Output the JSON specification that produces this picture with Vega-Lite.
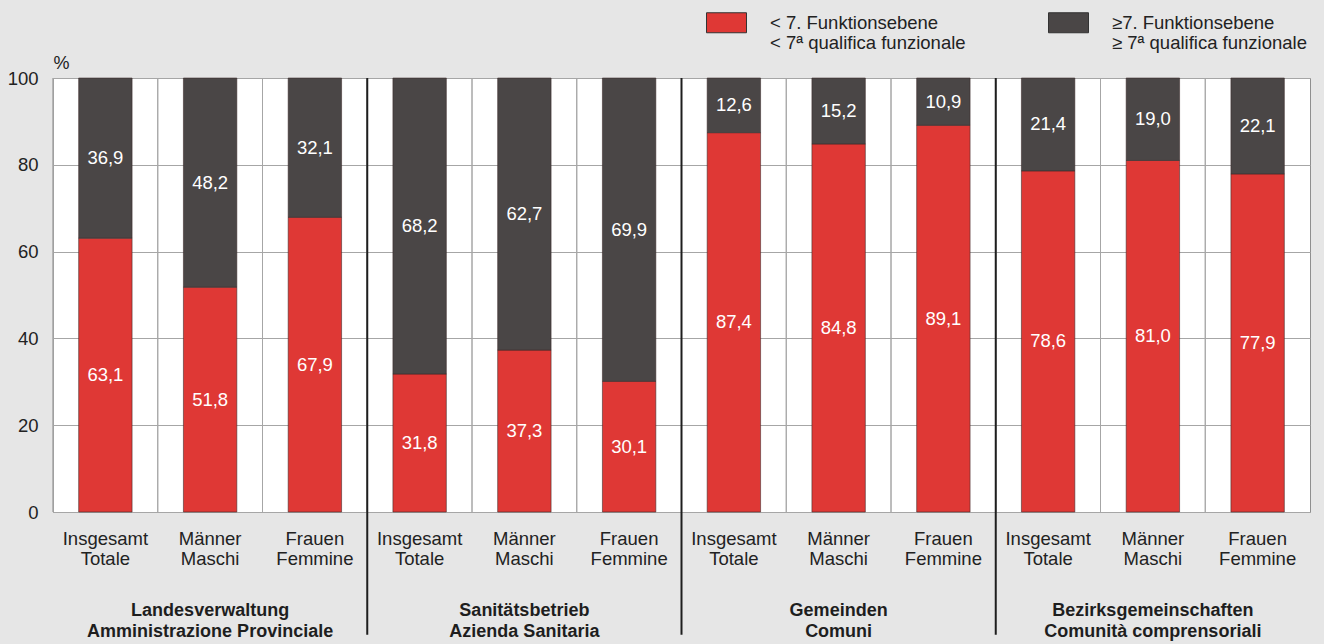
{
  "$schema": "https://vega.github.io/schema/vega-lite/v6.json",
  "width": 1257,
  "height": 434,
  "autosize": {"type": "none"},
  "padding": {"left": 53, "top": 78, "right": 14, "bottom": 132},
  "background": "#e6e6e6",
  "config": {
    "font": "Liberation Sans",
    "view": {"fill": "white", "stroke": "#8f8f8f", "strokeWidth": 1}
  },
  "datasets": {
    "main": [
      {"cat": "LV|Insgesamt|Totale", "lvl": "< 7. Funktionsebene|< 7ª qualifica funzionale", "value": 63.1},
      {"cat": "LV|Insgesamt|Totale", "lvl": "≥7. Funktionsebene|≥ 7ª qualifica funzionale", "value": 36.9},
      {"cat": "LV|Männer|Maschi", "lvl": "< 7. Funktionsebene|< 7ª qualifica funzionale", "value": 51.8},
      {"cat": "LV|Männer|Maschi", "lvl": "≥7. Funktionsebene|≥ 7ª qualifica funzionale", "value": 48.2},
      {"cat": "LV|Frauen|Femmine", "lvl": "< 7. Funktionsebene|< 7ª qualifica funzionale", "value": 67.9},
      {"cat": "LV|Frauen|Femmine", "lvl": "≥7. Funktionsebene|≥ 7ª qualifica funzionale", "value": 32.1},
      {"cat": "SB|Insgesamt|Totale", "lvl": "< 7. Funktionsebene|< 7ª qualifica funzionale", "value": 31.8},
      {"cat": "SB|Insgesamt|Totale", "lvl": "≥7. Funktionsebene|≥ 7ª qualifica funzionale", "value": 68.2},
      {"cat": "SB|Männer|Maschi", "lvl": "< 7. Funktionsebene|< 7ª qualifica funzionale", "value": 37.3},
      {"cat": "SB|Männer|Maschi", "lvl": "≥7. Funktionsebene|≥ 7ª qualifica funzionale", "value": 62.7},
      {"cat": "SB|Frauen|Femmine", "lvl": "< 7. Funktionsebene|< 7ª qualifica funzionale", "value": 30.1},
      {"cat": "SB|Frauen|Femmine", "lvl": "≥7. Funktionsebene|≥ 7ª qualifica funzionale", "value": 69.9},
      {"cat": "GE|Insgesamt|Totale", "lvl": "< 7. Funktionsebene|< 7ª qualifica funzionale", "value": 87.4},
      {"cat": "GE|Insgesamt|Totale", "lvl": "≥7. Funktionsebene|≥ 7ª qualifica funzionale", "value": 12.6},
      {"cat": "GE|Männer|Maschi", "lvl": "< 7. Funktionsebene|< 7ª qualifica funzionale", "value": 84.8},
      {"cat": "GE|Männer|Maschi", "lvl": "≥7. Funktionsebene|≥ 7ª qualifica funzionale", "value": 15.2},
      {"cat": "GE|Frauen|Femmine", "lvl": "< 7. Funktionsebene|< 7ª qualifica funzionale", "value": 89.1},
      {"cat": "GE|Frauen|Femmine", "lvl": "≥7. Funktionsebene|≥ 7ª qualifica funzionale", "value": 10.9},
      {"cat": "BG|Insgesamt|Totale", "lvl": "< 7. Funktionsebene|< 7ª qualifica funzionale", "value": 78.6},
      {"cat": "BG|Insgesamt|Totale", "lvl": "≥7. Funktionsebene|≥ 7ª qualifica funzionale", "value": 21.4},
      {"cat": "BG|Männer|Maschi", "lvl": "< 7. Funktionsebene|< 7ª qualifica funzionale", "value": 81.0},
      {"cat": "BG|Männer|Maschi", "lvl": "≥7. Funktionsebene|≥ 7ª qualifica funzionale", "value": 19.0},
      {"cat": "BG|Frauen|Femmine", "lvl": "< 7. Funktionsebene|< 7ª qualifica funzionale", "value": 77.9},
      {"cat": "BG|Frauen|Femmine", "lvl": "≥7. Funktionsebene|≥ 7ª qualifica funzionale", "value": 22.1}
    ],
    "groups": [
      {"cat": "LV|Männer|Maschi", "first": "LV|Insgesamt|Totale", "name": "Landesverwaltung|Amministrazione Provinciale"},
      {"cat": "SB|Männer|Maschi", "first": "SB|Insgesamt|Totale", "name": "Sanitätsbetrieb|Azienda Sanitaria"},
      {"cat": "GE|Männer|Maschi", "first": "GE|Insgesamt|Totale", "name": "Gemeinden|Comuni"},
      {"cat": "BG|Männer|Maschi", "first": "BG|Insgesamt|Totale", "name": "Bezirksgemeinschaften|Comunità comprensoriali"}
    ]
  },
  "layer": [
    {
      "data": {"name": "main"},
      "transform": [
        {"stack": "value", "groupby": ["cat"], "sort": [{"field": "lvl", "order": "ascending"}], "as": ["y0", "y1"]}
      ],
      "mark": {"type": "bar", "width": {"band": 0.51}, "stroke": "#3a2a2a", "strokeWidth": 0.8, "strokeOpacity": 0.7},
      "encoding": {
        "x": {"field": "cat", "type": "nominal",
              "scale": {"domain": ["LV|Insgesamt|Totale","LV|Männer|Maschi","LV|Frauen|Femmine","SB|Insgesamt|Totale","SB|Männer|Maschi","SB|Frauen|Femmine","GE|Insgesamt|Totale","GE|Männer|Maschi","GE|Frauen|Femmine","BG|Insgesamt|Totale","BG|Männer|Maschi","BG|Frauen|Femmine"], "paddingInner": 0, "paddingOuter": 0},
              "axis": {"title": null, "labelExpr": "slice(split(datum.label, '|'), 1)", "labelAngle": 0, "labelBaseline": "top", "labelPadding": 17, "labelFontSize": 18.5, "labelLineHeight": 20.5, "labelColor": "#222222", "ticks": false, "domain": false, "grid": false, "labelLimit": 200}},
        "y": {"field": "y0", "type": "quantitative",
              "scale": {"domain": [0, 100], "nice": false},
              "axis": {"values": [0, 20, 40, 60, 80, 100], "title": "%", "titleAngle": 0, "titleX": 0, "titleY": -15, "titleAlign": "left", "titleBaseline": "middle", "titleFontWeight": "normal", "titleFontSize": 18, "titleColor": "#222222", "labelFontSize": 18.5, "labelColor": "#222222", "labelPadding": 15, "ticks": false, "domain": false, "grid": true, "gridColor": "#a6a6a6", "gridWidth": 1}},
        "y2": {"field": "y1"},
        "color": {"field": "lvl", "type": "nominal",
                  "scale": {"domain": ["< 7. Funktionsebene|< 7ª qualifica funzionale", "≥7. Funktionsebene|≥ 7ª qualifica funzionale"], "range": ["#df3835", "#4a4646"]},
                  "legend": {"title": null, "orient": "none", "direction": "horizontal", "legendX": 653, "legendY": -76, "labelExpr": "split(datum.label, '|')", "symbolType": "M-1,-0.5H1V0.5H-1Z", "symbolSize": 1600, "symbolStrokeColor": "#333333", "symbolStrokeWidth": 1, "symbolOpacity": 1, "labelFontSize": 18.5, "labelLineHeight": 21, "labelBaseline": "middle", "labelColor": "#222222", "labelOffset": 23, "labelLimit": 400, "columnPadding": 80}}
      }
    },
    {
      "data": {"name": "main"},
      "mark": {"type": "rule", "color": "#a6a6a6", "strokeWidth": 1},
      "encoding": {
        "x": {"field": "cat", "type": "nominal", "bandPosition": 0,
              "scale": {"domain": ["LV|Insgesamt|Totale","LV|Männer|Maschi","LV|Frauen|Femmine","SB|Insgesamt|Totale","SB|Männer|Maschi","SB|Frauen|Femmine","GE|Insgesamt|Totale","GE|Männer|Maschi","GE|Frauen|Femmine","BG|Insgesamt|Totale","BG|Männer|Maschi","BG|Frauen|Femmine"], "paddingInner": 0, "paddingOuter": 0}},
        "y": {"datum": 0, "type": "quantitative", "scale": {"domain": [0, 100], "nice": false}},
        "y2": {"datum": 100}
      }
    },
    {
      "data": {"name": "main"},
      "transform": [
        {"stack": "value", "groupby": ["cat"], "sort": [{"field": "lvl", "order": "ascending"}], "as": ["y0", "y1"]},
        {"calculate": "(datum.y0 + datum.y1) / 2", "as": "ymid"},
        {"calculate": "replace(format(datum.value, '.1f'), '.', ',')", "as": "lbl"}
      ],
      "mark": {"type": "text", "color": "white", "fontSize": 18.5, "baseline": "middle", "align": "center"},
      "encoding": {
        "x": {"field": "cat", "type": "nominal",
              "scale": {"domain": ["LV|Insgesamt|Totale","LV|Männer|Maschi","LV|Frauen|Femmine","SB|Insgesamt|Totale","SB|Männer|Maschi","SB|Frauen|Femmine","GE|Insgesamt|Totale","GE|Männer|Maschi","GE|Frauen|Femmine","BG|Insgesamt|Totale","BG|Männer|Maschi","BG|Frauen|Femmine"], "paddingInner": 0, "paddingOuter": 0}},
        "y": {"field": "ymid", "type": "quantitative", "scale": {"domain": [0, 100], "nice": false}},
        "text": {"field": "lbl", "type": "nominal"}
      }
    },
    {
      "data": {"name": "groups"},
      "transform": [{"filter": "datum.first != 'LV|Insgesamt|Totale'"}],
      "mark": {"type": "rule", "color": "#1e1e1e", "strokeWidth": 2},
      "encoding": {
        "x": {"field": "first", "type": "nominal", "bandPosition": 0,
              "scale": {"domain": ["LV|Insgesamt|Totale","LV|Männer|Maschi","LV|Frauen|Femmine","SB|Insgesamt|Totale","SB|Männer|Maschi","SB|Frauen|Femmine","GE|Insgesamt|Totale","GE|Männer|Maschi","GE|Frauen|Femmine","BG|Insgesamt|Totale","BG|Männer|Maschi","BG|Frauen|Femmine"], "paddingInner": 0, "paddingOuter": 0}},
        "y": {"datum": 100, "type": "quantitative", "scale": {"domain": [0, 100], "nice": false}},
        "y2": {"datum": -28.3}
      }
    },
    {
      "data": {"name": "groups"},
      "mark": {"type": "text", "color": "#1e1e1e", "fontSize": 18, "fontWeight": "bold", "lineBreak": "|", "lineHeight": 21, "baseline": "middle", "align": "center"},
      "encoding": {
        "x": {"field": "cat", "type": "nominal",
              "scale": {"domain": ["LV|Insgesamt|Totale","LV|Männer|Maschi","LV|Frauen|Femmine","SB|Insgesamt|Totale","SB|Männer|Maschi","SB|Frauen|Femmine","GE|Insgesamt|Totale","GE|Männer|Maschi","GE|Frauen|Femmine","BG|Insgesamt|Totale","BG|Männer|Maschi","BG|Frauen|Femmine"], "paddingInner": 0, "paddingOuter": 0}},
        "y": {"datum": -22.8, "type": "quantitative", "scale": {"domain": [0, 100], "nice": false}},
        "text": {"field": "name", "type": "nominal"}
      }
    }
  ]
}
